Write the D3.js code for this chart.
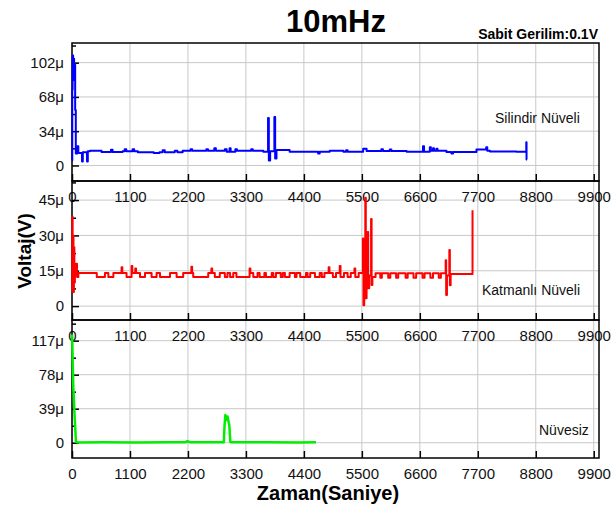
<!DOCTYPE html>
<html>
<head>
<meta charset="utf-8">
<script src="https://cdn.jsdelivr.net/npm/d3@7"></script>
<style>
body{margin:0;background:#fff;}
text{font-family:"Liberation Sans",Arial,Helvetica,sans-serif;}
</style>
</head>
<body>
<svg id="chart" width="612" height="508"></svg>
<script>
// x ticks (saniye) and y ticks for each panel (µV)
var xTicks = [0,1100,2200,3300,4400,5500,6600,7700,8800,9900];
var silTicks = [0,34,68,102];
var katTicks = [0,15,30,45];
var nuvTicks = [0,39,78,117];

// [zaman, voltaj µ]
var silindir = [
 [0,5],[5,75],[12,109],[22,90],[30,106],[40,85],[50,100],[60,55],[72,12],[100,19],[120,12.5],[190,4],[205,13],[285,4],[300,14],
 [340,14.7],[560,13.3],[740,15.5],[770,13.3],[960,14],[1000,16],[1030,14],[1150,16],[1180,14],[1250,13.1],[1550,12.3],[1660,13.1],
 [1720,15],[1760,13.1],[1950,14.7],[2000,13.1],[2100,14.5],[2250,16],[2280,14.5],[2550,16],[2580,14.5],[2700,17],[2730,14.5],
 [2900,16],[2935,13.7],[2990,17],[3010,13.7],[3100,16],[3130,14.5],[3400,16],[3430,14.5],[3630,13.7],[3720,47],[3735,5],[3760,14],
 [3840,48],[3855,7],[3880,15.3],[4130,13.7],[4290,13.5],[4670,12],[4700,13.5],[4890,14.5],[5150,13.7],[5200,15],[5230,13.7],
 [5525,16.5],[5590,14.3],[5870,16],[5900,14.3],[6030,15.8],[6060,14.3],[6350,13.6],[6660,19],[6680,13.6],[6790,18],[6810,14.5],
 [6850,17],[6870,14.5],[6915,16.5],[6935,14.5],[7105,13.4],[7200,12],[7230,13.4],[7675,15.8],[7860,18],[7880,14.5],[7930,13.9],
 [8430,13.6],[8620,23],[8625,6],[8635,6]
];
var katmanli = [
 [0,6],[5,38],[12,8],[20,30],[28,6],[36,25],[45,10],[55,13],[80,18],[95,12.4],[120,14.1],[470,12.4],[625,14.1],[690,12.4],
 [785,14.1],[940,16.5],[955,14.1],[1035,12.4],[1130,17],[1145,14.1],[1200,16],[1215,14.1],[1290,12.4],[1385,14.1],[1510,12.4],
 [1605,14.1],[1670,12.4],[1860,14.1],[1985,12.4],[2110,14.1],[2265,16.7],[2280,14.1],[2300,12.4],[2585,14.1],[2645,16],[2660,14.1],
 [2710,12.4],[2805,14.1],[2900,12.4],[2950,14.1],[3000,12.4],[3060,14.1],[3120,12.4],[3370,16],[3385,14.1],[3440,12.4],[3520,14.1],
 [3560,12.4],[3650,14.1],[3680,12.4],[3790,14.1],[3820,12.4],[3870,14.1],[3960,12.4],[4000,14.1],[4040,12.4],[4130,14.1],[4230,12.4],
 [4260,14.1],[4330,12.4],[4440,14.1],[4470,12.4],[4520,14.1],[4610,12.4],[4700,14.1],[4740,12.4],[4790,14.1],[4870,16.5],[4885,14.1],
 [4950,12.4],[5010,14.1],[5080,17],[5095,12.4],[5160,14.1],[5230,12.4],[5290,14.1],[5360,16],[5375,12.4],[5440,14.1],[5520,28.7],
 [5530,0.4],[5545,14],[5565,46],[5575,3.3],[5590,12],[5610,31.5],[5620,7.6],[5640,13],[5675,37],[5685,9],[5700,12.4],[5760,13.9],
 [5850,12],[5880,13.9],[6000,12],[6040,13.9],[6150,12],[6190,13.9],[6330,12],[6370,13.9],[6480,12],[6530,13.9],[6650,12],[6690,13.9],
 [6800,12],[6850,13.9],[6960,12],[7000,13.9],[7090,19.5],[7100,4.7],[7115,13],[7160,23.8],[7170,8.9],[7185,13.6],[7600,40.7]
];
var nuvesiz = [
 [0,124],[5,118],[15,88],[25,64],[50,30],[75,1.2],[100,0.4],[600,0.5],[1200,0.3],[1800,0.5],[2150,0.5],[2190,1.9],[2240,0.6],
 [2880,0.6],[2895,20],[2910,31.8],[2930,26],[2950,30],[2985,20],[3005,0.8],[3030,0.5],[3700,0.5],[4300,0.3],[4630,0.6]
];

var svg = d3.select("#chart");
var x = d3.scaleLinear().domain([0,10000]).range([72,599]);

var panels = [
 {name:"Silindir Nüveli", data:silindir, ticks:silTicks, color:"#0000ff", top:43, bottom:181, dom:[-15.4,121.5], curve:d3.curveStepAfter, lx:495, ly:123, w:2},
 {name:"Katmanlı Nüveli", data:katmanli, ticks:katTicks, color:"#ff0000", top:181, bottom:320, dom:[-5.9,53.1], curve:d3.curveStepAfter, lx:482, ly:295, w:2},
 {name:"Nüvesiz", data:nuvesiz, ticks:nuvTicks, color:"#00ee00", top:320, bottom:458, dom:[-17.5,140.7], curve:d3.curveLinear, lx:539, ly:435, w:2.5}
];
panels.forEach(function(p){
	p.y = d3.scaleLinear().domain(p.dom).range([p.bottom,p.top]);
});

//----------grids
panels.forEach(function(p){
	var g = svg.append("g");
	g.selectAll(".vgrid").data(xTicks).enter().append("line")
		.attr("x1",function(d){return x(d);}).attr("x2",function(d){return x(d);})
		.attr("y1",p.top).attr("y2",p.bottom)
		.style("stroke","#c8c8c8").style("stroke-width",1);
	g.selectAll(".hgrid").data(p.ticks).enter().append("line")
		.attr("x1",x.range()[0]).attr("x2",x.range()[1])
		.attr("y1",function(d){return p.y(d);}).attr("y2",function(d){return p.y(d);})
		.style("stroke","#c8c8c8").style("stroke-width",1);
});

//----------axes, frames, labels
panels.forEach(function(p){
	var step = p.ticks[1]-p.ticks[0];
	var minor = p.ticks.map(function(d){return d+step/2;}).filter(function(d){return d<p.dom[1];});
	var fmt = function(d){return d===0 ? "0" : d+"μ";};

	var ya = svg.append("g").attr("transform","translate("+x.range()[0]+",0)")
		.call(d3.axisLeft(p.y).tickValues(p.ticks).tickSize(-7).tickSizeOuter(0).tickPadding(8).tickFormat(fmt));
	var ym = svg.append("g").attr("transform","translate("+x.range()[0]+",0)")
		.call(d3.axisLeft(p.y).tickValues(minor).tickSize(-4).tickSizeOuter(0).tickFormat(""));
	var xa = svg.append("g").attr("transform","translate(0,"+p.bottom+")")
		.call(d3.axisBottom(x).tickValues(xTicks).tickSize(-7).tickSizeOuter(0).tickPadding(10).tickFormat(d3.format("d")));
	[ya,ym,xa].forEach(function(a){
		a.select(".domain").remove();
		a.selectAll("line").style("stroke","#000").style("stroke-width",1.5);
		a.selectAll("text").style("font-size","15px").style("fill","#111")
			.style("font-family","'Liberation Sans',Arial,sans-serif");
	});

	svg.append("rect")
		.attr("x",x.range()[0]).attr("y",p.top)
		.attr("width",x.range()[1]-x.range()[0]).attr("height",p.bottom-p.top)
		.style("fill","none").style("stroke","#000").style("stroke-width",1.5);

	svg.append("text").attr("x",p.lx).attr("y",p.ly)
		.style("font-size","14px").style("fill","#111").text(p.name);
});

//----------lines on top of frames
panels.forEach(function(p){
	var line = d3.line().x(function(d){return x(d[0]);}).y(function(d){return p.y(d[1]);}).curve(p.curve);
	svg.append("path").datum(p.data)
		.attr("d",line)
		.style("fill","none").style("stroke",p.color).style("stroke-width",p.w).style("stroke-linejoin","round");
});

svg.append("text").attr("x",336).attr("y",32).attr("text-anchor","middle")
	.style("font-size","31px").style("font-weight","bold").text("10mHz");
svg.append("text").attr("x",598).attr("y",38.5).attr("text-anchor","end")
	.style("font-size","14px").style("font-weight","bold").text("Sabit Gerilim:0.1V");
svg.append("text").attr("transform","translate(31,251) rotate(-90)").attr("text-anchor","middle")
	.style("font-size","19px").style("font-weight","bold").text("Voltaj(V)");
svg.append("text").attr("x",328).attr("y",500).attr("text-anchor","middle")
	.style("font-size","20px").style("font-weight","bold").text("Zaman(Saniye)");
</script>
</body>
</html>
